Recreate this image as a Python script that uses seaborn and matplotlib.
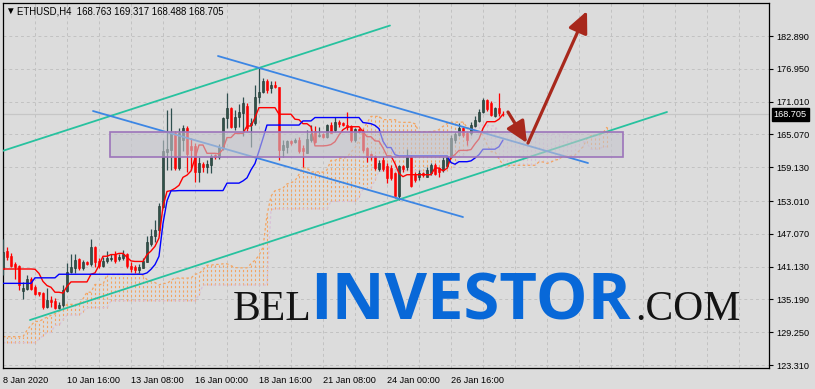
import numpy as np
import pandas as pd
import matplotlib
matplotlib.use("Agg")
import matplotlib.pyplot as plt
import matplotlib.transforms as mtransforms
from matplotlib.patches import Rectangle, FancyArrowPatch
from matplotlib.ticker import FixedLocator, MultipleLocator
import seaborn as sns

# ---------------- data (ETHUSD H4) ----------------
opens = [140.63, 143.95, 143.10, 141.59, 141.23, 136.76, 137.06, 138.93, 137.42, 136.46,
         136.40, 133.86, 135.07, 134.95, 133.68, 134.16, 136.76, 140.08, 140.93, 142.50,
         140.93, 141.96, 141.53, 144.61, 142.20, 141.23, 142.14, 142.44, 143.34, 142.44,
         142.62, 143.34, 141.30, 141.00, 140.60, 140.90, 142.00, 145.30, 146.60, 147.70,
         152.00, 161.90, 162.20, 165.30, 158.90, 164.00, 166.30, 162.90, 163.00, 158.30,
         159.70, 159.10, 159.50, 161.30, 161.00, 162.80, 168.00, 169.80, 166.50, 168.30,
         168.90, 170.30, 166.80, 167.07, 171.90, 172.68, 174.74, 173.41, 174.01, 173.59,
         162.24, 162.72, 163.87, 163.75, 164.05, 162.54, 161.76, 164.05, 165.74, 164.78,
         165.08, 164.53, 166.77, 165.86, 167.25, 167.19, 166.77, 166.65, 164.05, 166.04,
         165.74, 162.54, 161.46, 161.15, 158.74, 160.43, 159.34, 158.92, 158.02, 154.00,
         159.34, 159.10, 161.04, 157.71, 157.41, 158.14, 157.41, 158.02, 159.53, 158.92,
         158.62, 159.34, 161.04, 164.05, 164.96, 166.17, 165.26, 165.26, 166.65, 167.56,
         169.19, 171.30, 170.81, 168.40, 169.79, 168.763]
highs = [146.12, 144.61, 143.52, 142.02, 141.40, 138.39, 139.60, 139.30, 137.79, 136.58,
         136.58, 137.30, 135.79, 135.37, 134.77, 137.79, 141.71, 143.34, 143.34, 142.74,
         142.32, 142.08, 146.12, 144.85, 142.62, 142.80, 143.95, 143.34, 143.95, 143.34,
         144.13, 143.52, 141.90, 141.50, 141.60, 142.70, 146.60, 147.90, 149.60, 152.60,
         164.00, 169.50, 169.80, 165.60, 166.30, 166.80, 166.60, 164.50, 163.60, 161.00,
         160.10, 160.40, 161.60, 161.60, 163.40, 168.30, 172.50, 170.10, 169.50, 170.50,
         171.90, 170.70, 168.00, 174.01, 177.03, 175.22, 175.04, 174.80, 174.80, 173.71,
         164.05, 164.05, 164.05, 164.35, 164.66, 163.15, 165.86, 166.77, 166.59, 166.47,
         165.38, 166.89, 167.25, 168.28, 167.67, 167.37, 169.18, 166.77, 166.16, 166.16,
         165.98, 162.84, 161.64, 161.33, 160.43, 161.16, 159.83, 159.53, 158.32, 159.53,
         159.53, 162.36, 161.34, 158.32, 158.62, 158.32, 159.10, 159.83, 159.83, 159.22,
         161.04, 161.34, 164.96, 165.56, 167.07, 166.47, 165.56, 167.37, 168.40, 169.61,
         171.60, 171.42, 171.18, 170.09, 172.51, 169.317]
lows = [139.60, 142.32, 141.11, 138.81, 136.88, 135.19, 136.88, 136.88, 135.97, 135.85,
        133.38, 133.56, 133.86, 133.38, 133.38, 133.86, 136.58, 139.90, 139.90, 140.50,
        140.50, 141.41, 141.23, 141.11, 140.93, 141.11, 141.83, 142.20, 141.83, 142.20,
        142.32, 140.81, 140.20, 140.00, 140.00, 140.80, 141.90, 144.80, 145.60, 147.10,
        151.70, 158.60, 158.60, 158.60, 158.70, 162.00, 158.30, 158.60, 156.50, 156.50,
        158.30, 158.00, 158.00, 160.70, 160.70, 162.20, 166.20, 166.20, 165.90, 166.50,
        164.70, 165.60, 162.80, 166.77, 170.69, 172.50, 172.50, 172.50, 173.41, 160.43,
        161.03, 161.64, 163.15, 163.45, 161.64, 159.22, 161.64, 163.75, 163.57, 164.53,
        164.35, 164.35, 165.26, 165.56, 166.47, 166.59, 165.86, 163.75, 163.75, 165.38,
        161.94, 160.13, 160.43, 158.62, 158.50, 158.50, 156.21, 156.81, 153.60, 153.19,
        158.32, 158.62, 155.60, 156.51, 156.81, 157.41, 157.29, 157.71, 157.71, 157.29,
        158.32, 158.92, 160.73, 163.45, 164.78, 164.66, 163.15, 164.96, 166.35, 167.37,
        169.00, 169.37, 168.40, 168.16, 168.40, 168.488]
closes = [143.83, 142.80, 141.23, 141.11, 137.79, 137.30, 138.81, 137.06, 136.15, 136.15,
          133.86, 135.01, 134.77, 133.68, 134.16, 136.88, 140.08, 141.11, 142.32, 140.93,
          142.02, 141.59, 144.61, 141.90, 141.23, 142.14, 142.62, 142.74, 142.20, 142.80,
          143.40, 141.23, 140.70, 140.60, 141.00, 142.10, 145.50, 146.70, 147.80, 152.10,
          162.00, 162.50, 165.40, 158.90, 165.40, 166.30, 161.50, 162.30, 158.30, 159.90,
          159.10, 159.70, 161.20, 161.00, 162.80, 168.00, 169.80, 166.50, 168.30, 169.20,
          170.70, 166.20, 167.20, 171.90, 172.80, 174.74, 173.11, 174.01, 173.59, 162.24,
          163.15, 163.93, 163.45, 164.05, 162.12, 162.12, 164.17, 165.14, 163.75, 164.96,
          164.66, 166.77, 165.38, 167.37, 166.89, 166.77, 166.47, 164.05, 165.98, 165.56,
          162.24, 161.03, 161.03, 158.92, 159.83, 158.74, 157.11, 157.11, 154.00, 159.34,
          158.74, 161.04, 155.72, 156.81, 158.14, 157.71, 158.62, 159.53, 157.90, 158.32,
          160.43, 161.04, 164.36, 165.14, 166.17, 164.96, 164.05, 166.77, 167.68, 169.19,
          171.30, 169.61, 168.58, 169.79, 168.88, 168.705]

tenkan_early = [140.7] * 8
kijun_early = [138.1] * 8 + [139.1] * 6
span_a_early = ([128.44] * 6 + [129.6, 130.5, 131.2, 131.2, 131.6, 132.0, 132.3, 132.6, 133.0, 133.4]
                + [134.3] * 4 + [135.3] + [136.5] * 2 + [137.9] * 3 + [139.7] * 8)
span_b_early = ([127.35] * 9 + [128.0, 128.6, 129.2, 129.2, 130.5, 130.5, 131.5] + [132.36] * 4
                + [133.0] + [133.7] * 6 + [134.95] * 22 + [136.0] + [137.8] * 17)

# drawn objects (bar index, price)
channel_up = [(-0.5, 161.99), (96.75, 184.79)]
channel_low = [(6.75, 131.46), (166.0, 169.13)]
desc_up = [(53.75, 179.27), (146.25, 159.89)]
desc_low = [(22.5, 169.31), (115.0, 150.11)]
zone = [26.75, 155.0, 160.98, 165.50]          # x0, x1, price low, price high
arrow_down = [(126.25, 169.13), (131.0, 163.51)]
arrow_up = [(131.25, 163.51), (146.0, 187.42)]
last_price = 168.705

x_tick_pos = [0, 16, 32, 48, 64, 80, 96, 112]
x_tick_labels = ["8 Jan 2020", "10 Jan 16:00", "13 Jan 08:00", "16 Jan 00:00",
                 "18 Jan 16:00", "21 Jan 08:00", "24 Jan 00:00", "26 Jan 16:00"]
y_ticks = [182.890, 176.950, 171.010, 165.070, 159.130, 153.010, 147.070,
           141.130, 135.190, 129.250, 123.310]

# ---------------- indicator ----------------
df = pd.DataFrame({"open": opens, "high": highs, "low": lows, "close": closes})
n = len(df)
bars = np.arange(n)
tenkan = (df.high.rolling(9, min_periods=1).max() + df.low.rolling(9, min_periods=1).min()) / 2
kijun = (df.high.rolling(26, min_periods=1).max() + df.low.rolling(26, min_periods=1).min()) / 2
tenkan.iloc[:len(tenkan_early)] = tenkan_early
kijun.iloc[:len(kijun_early)] = kijun_early
sb = (df.high.rolling(52, min_periods=1).max() + df.low.rolling(52, min_periods=1).min()) / 2
span_a = np.full(n + 26, np.nan)
span_b = np.full(n + 26, np.nan)
span_a[26:] = ((tenkan + kijun) / 2).values
span_b[26:] = sb.values
span_a[:len(span_a_early)] = span_a_early
span_b[:len(span_b_early)] = span_b_early
cloud_x = np.arange(n + 26)

# ---------------- style ----------------
sns.set_theme(style="white", rc={"axes.facecolor": "#DCDCDC", "figure.facecolor": "#DCDCDC"})
plt.rcParams["font.family"] = ["Liberation Sans", "DejaVu Sans"]

W, H = 815, 389
fig = plt.figure(figsize=(W / 100, H / 100), dpi=100)
ax = fig.add_axes([2.7 / W, (H - 368) / H, (769 - 2.7) / W, (368 - 3) / H])
ax.set_facecolor("#DCDCDC")
ax.set_xlim(-0.07, 191.5)
ax.set_ylim(122.77, 188.87)

for s in ax.spines.values():
    s.set_color("black")
    s.set_linewidth(0.9)

ax.yaxis.tick_right()
ax.yaxis.set_major_locator(FixedLocator(y_ticks))
ax.set_yticklabels([f"{v:.3f}" for v in y_ticks])
ax.xaxis.set_major_locator(FixedLocator(x_tick_pos))
ax.xaxis.set_minor_locator(MultipleLocator(8))
ax.set_xticklabels(x_tick_labels, ha="left")
ax.tick_params(axis="both", which="major", length=3, width=0.8, color="black",
               labelsize=6.6, labelcolor="black")
ax.tick_params(axis="y", pad=2)
ax.tick_params(axis="x", pad=3)
ax.tick_params(axis="x", which="minor", length=0)
ax.grid(True, which="both", color="#C2C2C2", linestyle=(0, (3, 3)), linewidth=0.7, zorder=0)
ax.set_axisbelow(True)

# current price line
ax.axhline(last_price, color="#C6C6C6", lw=0.9, zorder=1)

# cloud hatch
ab = ~np.isnan(span_a) & ~np.isnan(span_b)
up = ab & (span_a >= span_b)
dn = ab & (span_a < span_b)
ax.vlines(cloud_x[up], span_b[up], span_a[up], colors="#F4A460", linestyles=(0, (2, 2)),
          linewidth=0.8, zorder=1.5)
ax.vlines(cloud_x[dn], span_a[dn], span_b[dn], colors="#D8BFD8", linestyles=(0, (2, 2)),
          linewidth=0.8, zorder=1.5)
ax.plot(cloud_x, span_a, color="#F4A460", lw=0.9, ls=(0, (2, 2)), zorder=1.6)
ax.plot(cloud_x, span_b, color="#D8BFD8", lw=0.9, ls=(0, (2, 2)), zorder=1.6)

# candles
o = df.open.values; c = df.close.values; h = df.high.values; l = df.low.values
bull = c >= o
bear = ~bull
ax.vlines(bars[bull], l[bull], h[bull], color="#2F4F4F", lw=0.9, zorder=3)
ax.vlines(bars[bear], l[bear], h[bear], color="#FF0000", lw=0.9, zorder=3)
body_h = np.maximum(np.abs(c - o), 0.15)
body_b = np.minimum(o, c)
ax.bar(bars[bull], body_h[bull], bottom=body_b[bull], width=0.74, color="#2F5249",
       edgecolor="#1B302B", linewidth=0.4, zorder=3.2)
ax.bar(bars[bear], body_h[bear], bottom=body_b[bear], width=0.74, color="#FF0000",
       edgecolor="#FF0000", linewidth=0.4, zorder=3.2)

# tenkan / kijun
sns.lineplot(x=bars, y=tenkan.values, ax=ax, color="#FF0000", lw=1.0, zorder=4)
sns.lineplot(x=bars, y=kijun.values, ax=ax, color="#0000FF", lw=1.0, zorder=4)

# trend lines
for seg, col in [(channel_up, "#27C29F"), (channel_low, "#27C29F"),
                 (desc_up, "#3C86E4"), (desc_low, "#3C86E4")]:
    sns.lineplot(x=[seg[0][0], seg[1][0]], y=[seg[0][1], seg[1][1]], ax=ax,
                 color=col, lw=1.3, zorder=5)

# zone rectangle
ax.add_patch(Rectangle((zone[0], zone[2]), zone[1] - zone[0], zone[3] - zone[2],
                       facecolor="#C4C4CC", alpha=0.6, edgecolor="none", zorder=6))
ax.add_patch(Rectangle((zone[0], zone[2]), zone[1] - zone[0], zone[3] - zone[2],
                       facecolor="none", edgecolor="#9C74BA", lw=1.2, zorder=6.1))

# arrows
for a in (arrow_down, arrow_up):
    ax.add_patch(FancyArrowPatch(a[0], a[1], arrowstyle="-|>,head_length=1.3,head_width=0.6",
                                 mutation_scale=10, color="#A8281C", lw=2.3,
                                 shrinkA=0, shrinkB=0, zorder=7))

ax.set_xlabel("")
ax.set_ylabel("")

# price label
trans = mtransforms.blended_transform_factory(ax.transAxes, ax.transData)
ax.text(1.006, last_price, f"{last_price:.3f}", transform=trans, color="white", fontsize=6.6,
        va="center", ha="left",
        bbox=dict(boxstyle="square,pad=0.2", facecolor="black", edgecolor="black"), zorder=10)

# header
fig.text(5.5 / W, 1 - 11 / H, "\u25BC", fontsize=7, va="center", ha="left", color="black")
fig.text(17 / W, 1 - 11 / H, "ETHUSD,H4  168.763 169.317 168.488 168.705", fontsize=6.9,
         va="center", ha="left", color="black")

# watermark
base = (H - 320) / H
fig.text(233 / W, base, "BEL", fontsize=30, family="Liberation Serif", color="#141414", va="baseline")
fig.text(310 / W, base, "INVESTOR", fontsize=47, family="Open Sans", weight="bold",
         color="#0868D8", va="baseline")
fig.text(635 / W, base, ".COM", fontsize=30, family="Liberation Serif", color="#141414", va="baseline")

fig.savefig("out.png", dpi=100, facecolor="#DCDCDC")
